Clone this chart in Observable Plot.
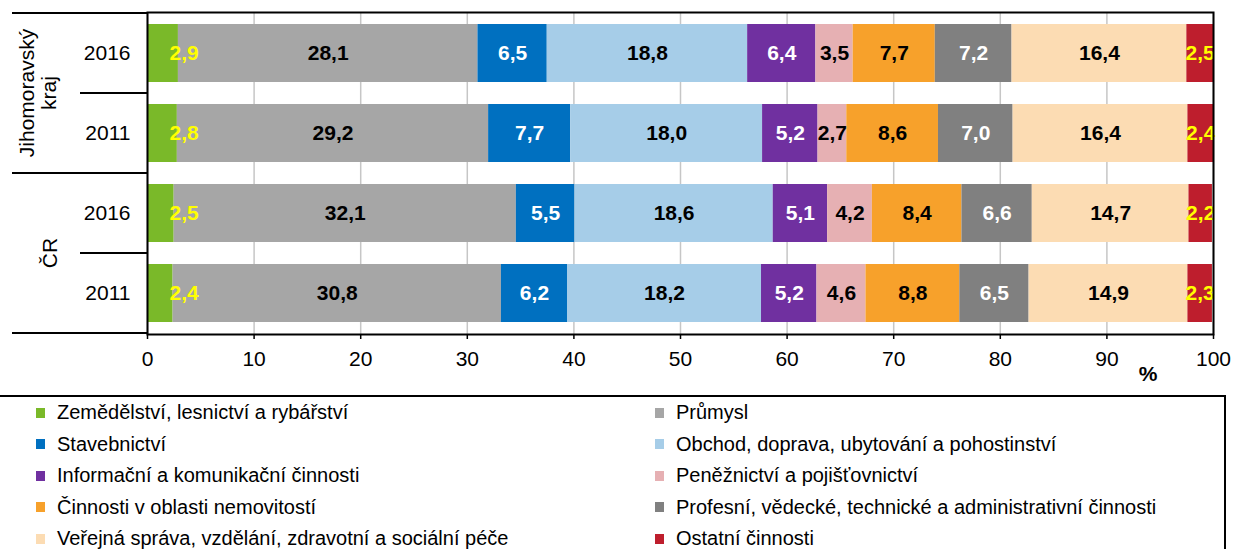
<!DOCTYPE html>
<html>
<head>
<meta charset="utf-8">
<script src="https://cdn.jsdelivr.net/npm/d3@7"></script>
<script src="https://cdn.jsdelivr.net/npm/@observablehq/plot@0.6"></script>
<style>
  body { margin: 0; background: #fff; font-family: "Liberation Sans", Arial, sans-serif; }
  #wrap { position: relative; width: 1235px; height: 549px; overflow: hidden; }
  #legend { position: absolute; left: -2px; top: 395px; width: 1228px; height: 200px; box-sizing: border-box;
            border: 2px solid #000; display: grid; grid-template-columns: 619px auto; grid-auto-rows: 31.5px;
            padding-left: 36px; }
  .item { display: flex; align-items: center; font-size: 20px; color: #000; white-space: nowrap; }
  .sw { width: 9px; height: 10px; margin-right: 12px; flex: none; }
</style>
</head>
<body>
<div id="wrap"></div>
<script>
// ---- data ----
const sectors = [
  "Zemědělství, lesnictví a rybářství",
  "Průmysl",
  "Stavebnictví",
  "Obchod, doprava, ubytování a pohostinství",
  "Informační a komunikační činnosti",
  "Peněžnictví a pojišťovnictví",
  "Činnosti v oblasti nemovitostí",
  "Profesní, vědecké, technické a administrativní činnosti",
  "Veřejná správa, vzdělání, zdravotní a sociální péče",
  "Ostatní činnosti"
];
const sectorColors = ["#7ab929", "#a6a6a6", "#0070c0", "#a6cde8", "#7030a0", "#e6b0b3", "#f7a12b", "#808080", "#fcdcb3", "#be1e2d"];
const labelColors  = ["#ffff00", "#000000", "#ffffff", "#000000", "#ffffff", "#000000", "#000000", "#ffffff", "#000000", "#ffff00"];
const groups = ["Jihomoravský kraj", "Jihomoravský kraj", "ČR", "ČR"];
const years = ["2016", "2011", "2016", "2011"];
const jmk2016 = [2.9, 28.1, 6.5, 18.8, 6.4, 3.5, 7.7, 7.2, 16.4, 2.5];
const jmk2011 = [2.8, 29.2, 7.7, 18.0, 5.2, 2.7, 8.6, 7.0, 16.4, 2.4];
const cr2016  = [2.5, 32.1, 5.5, 18.6, 5.1, 4.2, 8.4, 6.6, 14.7, 2.2];
const cr2011  = [2.4, 30.8, 6.2, 18.2, 5.2, 4.6, 8.8, 6.5, 14.9, 2.3];
const xTicks = [0, 10, 20, 30, 40, 50, 60, 70, 80, 90, 100];
const axisUnit = "%";

// ---- table ----
const series = [jmk2016, jmk2011, cr2016, cr2011];
const rowKeys = groups.map((g, i) => g + " " + years[i]);
const data = [];
series.forEach((vals, i) => vals.forEach((v, j) => data.push({
  key: rowKeys[i], group: groups[i], year: years[i], sector: sectors[j], idx: j, value: v
})));
const fmt = v => v.toFixed(1).replace(".", ",");

const chart = Plot.plot({
  width: 1235,
  height: 390,
  marginLeft: 147,
  marginRight: 22,
  marginTop: 12,
  marginBottom: 56,
  style: { fontFamily: "Liberation Sans, Arial, sans-serif", fontSize: "21px", color: "#000", background: "#fff" },
  x: { domain: [0, 100] },
  y: { domain: rowKeys, paddingInner: 0.275, paddingOuter: 0.1375 },
  color: { type: "identity" },
  marks: [
    Plot.gridX({ ticks: xTicks, stroke: "#c6c6c6", strokeOpacity: 1, strokeWidth: 1.5 }),
    Plot.barX(data, Plot.stackX({ x: "value", y: "key", fill: d => sectorColors[d.idx] })),
    Plot.text(data, Plot.stackX({
      x: "value", y: "key",
      text: d => d.idx === 0 ? null : fmt(d.value),
      fill: d => labelColors[d.idx],
      fontWeight: "bold", fontSize: 21
    })),
    Plot.text(data, Plot.stackX1({
      x: "value", y: "key",
      text: d => d.idx === 0 ? fmt(d.value) : null,
      fill: d => labelColors[d.idx],
      textAnchor: "start", dx: 22,
      fontWeight: "bold", fontSize: 21
    })),
    Plot.frame({ stroke: "#000", strokeWidth: 2 }),
    Plot.axisX({ ticks: xTicks, tickSize: 5, tickPadding: 12, fontSize: 21, label: null, stroke: "#000", strokeWidth: 1.5 }),
    Plot.axisY({ tickSize: 0, tickPadding: 17, fontSize: 21, label: null, tickFormat: k => k.split(" ").pop() }),
    Plot.text([axisUnit], { frameAnchor: "bottom-right", text: d => d, dx: -56, dy: 46, fontSize: 21, fontWeight: "bold" })
  ]
});

// separators and group labels in the left label area, placed from the y scale
const ys = chart.scale("y");
const pad = (ys.step - ys.bandwidth) / 2;
const bounds = rowKeys.map(k => ys.apply(k) - pad);
bounds.push(ys.apply(rowKeys[rowKeys.length - 1]) + ys.bandwidth + pad);
const svg = d3.select(chart);
const g = svg.append("g").attr("stroke", "#000").attr("stroke-width", 2);
bounds.forEach((b, i) => {
  const newGroup = i === 0 || i === bounds.length - 1 || groups[i] !== groups[i - 1];
  g.append("line").attr("x1", newGroup ? 12 : 80).attr("x2", 147).attr("y1", b).attr("y2", b);
});
const groupNames = Array.from(new Set(groups));
groupNames.forEach(name => {
  const idxs = groups.map((gname, i) => gname === name ? i : -1).filter(i => i >= 0);
  const yc = (bounds[idxs[0]] + bounds[idxs[idxs.length - 1] + 1]) / 2;
  const words = name.split(" ");
  const xc = words.length > 1 ? 38 : 50;
  const t = svg.append("text")
    .attr("transform", `translate(${xc},${yc}) rotate(-90)`)
    .attr("text-anchor", "middle")
    .attr("font-size", 21)
    .attr("fill", "#000");
  const lh = 22;
  words.forEach((w, k) => {
    t.append("tspan").attr("x", 0).attr("y", (k - (words.length - 1) / 2) * lh).attr("dy", "0.35em").text(w);
  });
});

const wrap = document.getElementById("wrap");
wrap.appendChild(chart);

// legend
const legend = document.createElement("div");
legend.id = "legend";
sectors.forEach((s, i) => {
  const it = document.createElement("div");
  it.className = "item";
  const sw = document.createElement("span");
  sw.className = "sw";
  sw.style.background = sectorColors[i];
  it.appendChild(sw);
  it.appendChild(document.createTextNode(s));
  legend.appendChild(it);
});
wrap.appendChild(legend);
</script>
</body>
</html>
